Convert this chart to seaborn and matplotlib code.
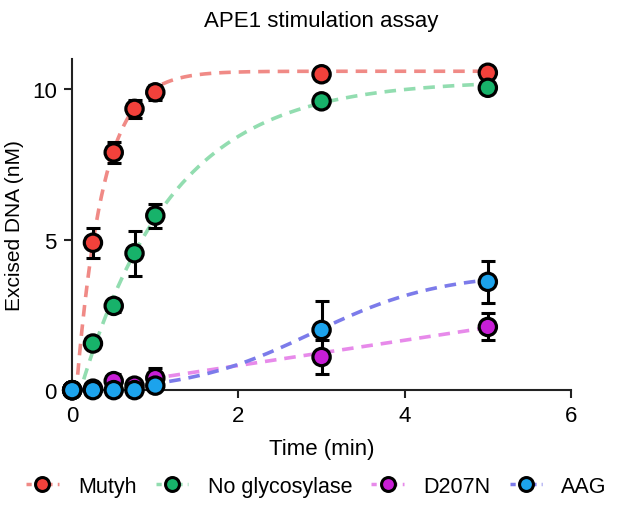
import numpy as np
import pandas as pd
import matplotlib
matplotlib.use("Agg")
import matplotlib.pyplot as plt
from matplotlib.lines import Line2D
import seaborn as sns

# ---- data ----
times = [0, 0.25, 0.5, 0.75, 1, 3, 5]
series = ["Mutyh", "No glycosylase", "D207N", "AAG"]

mutyh_mean = [0, 4.9, 7.9, 9.35, 9.9, 10.5, 10.55]
mutyh_err = [0, 0.5, 0.35, 0.3, 0.25, 0.1, 0.1]
noglyc_mean = [0, 1.55, 2.8, 4.55, 5.8, 9.6, 10.05]
noglyc_err = [0, 0.1, 0.2, 0.75, 0.4, 0.1, 0.1]
d207n_mean = [0, 0.05, 0.3, 0.15, 0.4, 1.1, 2.1]
d207n_err = [0, 0.05, 0.25, 0.1, 0.35, 0.55, 0.45]
aag_mean = [0, 0.0, 0.0, 0.0, 0.15, 2.0, 3.6]
aag_err = [0, 0, 0, 0, 0.1, 0.95, 0.7]

# fitted model parameters
# one-phase association: A * (1 - exp(-k (t - t0)))
mutyh_fit = dict(A=10.6, k=3.1, t0=0.05)
noglyc_fit = dict(A=10.3, k=0.9, t0=0.1)
# linear for D207N, baseline-corrected logistic for AAG
d207n_fit = dict(slope=0.42, t0=0.05)
aag_fit = dict(top=4.0, k=1.3, t50=2.9)

marker_colors = ["#F2413B", "#17B26A", "#C81ED6", "#1CA3EC"]
line_colors = ["#F08A86", "#92DDB0", "#E78AEA", "#7C7BEA"]

sns.set_style("ticks")
plt.rcParams["font.family"] = ["Liberation Sans", "DejaVu Sans"]
plt.rcParams.update({"text.color": "black", "axes.labelcolor": "black",
                     "xtick.color": "black", "ytick.color": "black",
                     "axes.edgecolor": "black"})

fig = plt.figure(figsize=(6.33, 5.06), dpi=100)
ax = fig.add_axes([0.114, 0.227, 0.788, 0.654])

# fit curves
tt = np.linspace(0, 5, 300)


def assoc(t, A, k, t0):
    return np.where(t > t0, A * (1 - np.exp(-k * (t - t0))), 0.0)


def logistic(t, top, k, t50):
    return top / (1 + np.exp(-k * (t - t50))) - top / (1 + np.exp(k * t50))


fits = {
    "Mutyh": assoc(tt, **mutyh_fit),
    "No glycosylase": assoc(tt, **noglyc_fit),
    "D207N": np.clip(d207n_fit["slope"] * (tt - d207n_fit["t0"]), 0, None),
    "AAG": logistic(tt, **aag_fit),
}
fit_df = pd.concat(
    [pd.DataFrame({"t": tt, "y": fits[s], "series": s}) for s in series]
)
sns.lineplot(data=fit_df, x="t", y="y", hue="series", palette=line_colors,
             hue_order=series, linestyle=(0, (3.2, 2.2)), linewidth=2.6,
             legend=False, ax=ax, clip_on=False)

means = [mutyh_mean, noglyc_mean, d207n_mean, aag_mean]
errs = [mutyh_err, noglyc_err, d207n_err, aag_err]
pts = pd.concat(
    [pd.DataFrame({"t": times, "y": m, "err": e, "series": s})
     for s, m, e in zip(series, means, errs)]
)

# error bars then points (AAG drawn last, on top)
for s in series:
    d = pts[pts.series == s]
    ax.errorbar(d.t, d.y, yerr=d.err, fmt="none", ecolor="black",
                elinewidth=2.2, capsize=5, capthick=2.2, zorder=3,
                clip_on=False)
sns.scatterplot(data=pts, x="t", y="y", hue="series", hue_order=series,
                palette=marker_colors, s=155, edgecolor="black",
                linewidth=2.3, legend=False, ax=ax, zorder=4, clip_on=False)

ax.set_xlim(0, 6)
ax.set_ylim(0, 11)
ax.set_xticks([0, 2, 4, 6])
ax.set_yticks([0, 5, 10])
ax.tick_params(labelsize=16, width=1.5, length=6, color="#222222", pad=5)
for sp in ["left", "bottom"]:
    ax.spines[sp].set_linewidth(1.5)
    ax.spines[sp].set_color("#222222")
sns.despine(ax=ax)

ax.set_xlabel("Time (min)", fontsize=16, labelpad=8)
ax.set_ylabel("Excised DNA (nM)", fontsize=15, labelpad=6)
ax.set_title("APE1 stimulation assay", fontsize=16, pad=24)

handles = [
    Line2D([0], [0], color=lc, linestyle=(0, (1.5, 1.5)), linewidth=2.5,
           marker="o", markersize=10, markerfacecolor=mc,
           markeredgecolor="black", markeredgewidth=2.2)
    for lc, mc in zip(line_colors, marker_colors)
]
fig.legend(handles, series, loc="center", bbox_to_anchor=(0.5, 0.037),
           ncol=4, frameon=False, fontsize=15.5, handlelength=1.5,
           columnspacing=0.9, handletextpad=0.9)

fig.savefig("out.png", dpi=100)
